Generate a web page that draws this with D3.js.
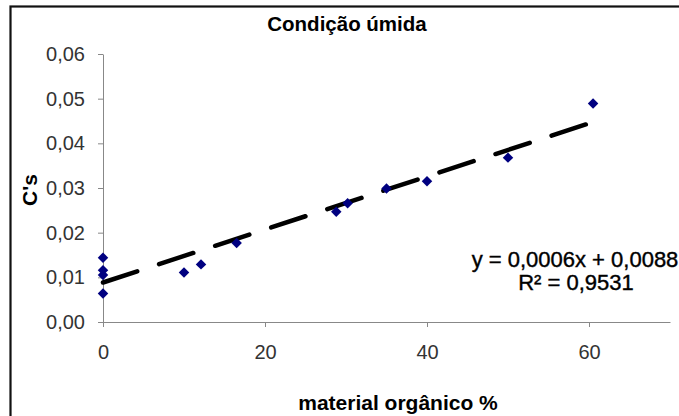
<!DOCTYPE html>
<html>
<head>
<meta charset="utf-8">
<script src="https://cdn.jsdelivr.net/npm/d3@7"></script>
<style>
  body { margin: 0; background: #fff; }
  svg { display: block; font-family: "Liberation Sans", Arial, sans-serif; }
</style>
</head>
<body>
<div id="mount"></div>
<script>
'use strict';

// material orgânico % (x) and C's (y)
const materia = [0, 0, 0, 0, 10, 12.1, 16.5, 28.8, 30.2, 35, 40, 50, 60.5];
const cs      = [0.0144, 0.0116, 0.0105, 0.0064, 0.0111, 0.0129, 0.0177,
                 0.0247, 0.0266, 0.0299, 0.0315, 0.0368, 0.0489];

const xTicks = [0, 20, 40, 60];
const yTicks = [0, 0.01, 0.02, 0.03, 0.04, 0.05, 0.06];

const title = 'Condição úmida';
const xTitle = 'material orgânico %';
const yTitle = "C's";
const eqText = 'y = 0,0006x + 0,0088';
const r2Text = 'R² = 0,9531';

const W = 679, H = 416;

const svg = d3.select('#mount').append('svg')
    .attr('width', W)
    .attr('height', H);

svg.append('rect')
    .attr('width', W).attr('height', H)
    .attr('fill', '#fff');

// chart border (cut off on the right and bottom)
svg.append('rect')
    .attr('x', 10.5).attr('y', 6.5)
    .attr('width', 700).attr('height', 440)
    .attr('fill', 'none')
    .attr('stroke', '#111')
    .attr('stroke-width', 2.2);

const x = d3.scaleLinear().domain([0, 70]).range([103, 670]);
const y = d3.scaleLinear().domain([0, 0.06]).range([322, 54]);

const comma = d3.formatLocale({ decimal: ',', thousands: '.', grouping: [3], currency: ['', ''] });

// axes
const yAxis = svg.append('g')
    .attr('transform', `translate(${x(0)},0)`)
    .call(d3.axisLeft(y).tickValues(yTicks).tickSize(5).tickSizeOuter(0).tickPadding(13)
      .tickFormat(comma.format('.2f')));

const xAxis = svg.append('g')
    .attr('transform', `translate(0,${y(0)})`)
    .call(d3.axisBottom(x).tickValues(xTicks).tickSize(5).tickSizeOuter(0).tickPadding(18)
      .tickFormat(d3.format('d')));

[xAxis, yAxis].forEach(a => {
  a.select('.domain').attr('stroke', '#888');
  a.selectAll('.tick line').attr('stroke', '#888');
  a.selectAll('.tick text')
      .attr('fill', '#333')
      .style('font-size', '20px');
});

// trendline: least squares over the points
const mx = d3.mean(materia), my = d3.mean(cs);
const slope = d3.sum(materia, (v, i) => (v - mx) * (cs[i] - my)) /
              d3.sum(materia, v => (v - mx) * (v - mx));
const icpt = my - slope * mx;
const xr = d3.extent(materia);

svg.append('line')
    .attr('x1', x(xr[0])).attr('y1', y(icpt + slope * xr[0]))
    .attr('x2', x(xr[1])).attr('y2', y(icpt + slope * xr[1]))
    .attr('stroke', '#000')
    .attr('stroke-width', 4.5)
    .attr('stroke-linecap', 'round')
    .attr('stroke-dasharray', '36,23');

// points
const diamond = d3.symbol(d3.symbolSquare, 55);
svg.append('g').selectAll('path')
    .data(materia.map((v, i) => ({ x: v, y: cs[i] })))
  .enter().append('path')
    .attr('d', diamond)
    .attr('transform', d => `translate(${x(d.x)},${y(d.y)}) rotate(45)`)
    .attr('fill', '#000080');

// texts
svg.append('text')
    .attr('x', 347).attr('y', 31)
    .attr('text-anchor', 'middle')
    .style('font-size', '20.5px').style('font-weight', 'bold')
    .text(title);

svg.append('text')
    .attr('x', 398).attr('y', 410)
    .attr('text-anchor', 'middle')
    .style('font-size', '21px').style('font-weight', 'bold')
    .text(xTitle);

svg.append('text')
    .attr('transform', 'translate(37,190) rotate(-90)')
    .attr('text-anchor', 'middle')
    .style('font-size', '21px').style('font-weight', 'bold')
    .text(yTitle);

svg.append('text')
    .attr('x', 575).attr('y', 267)
    .attr('text-anchor', 'middle')
    .attr('stroke', '#000').attr('stroke-width', 0.4)
    .style('font-size', '22px')
    .text(eqText);

svg.append('text')
    .attr('x', 576).attr('y', 290)
    .attr('text-anchor', 'middle')
    .attr('stroke', '#000').attr('stroke-width', 0.4)
    .style('font-size', '22px')
    .text(r2Text);
</script>
</body>
</html>
